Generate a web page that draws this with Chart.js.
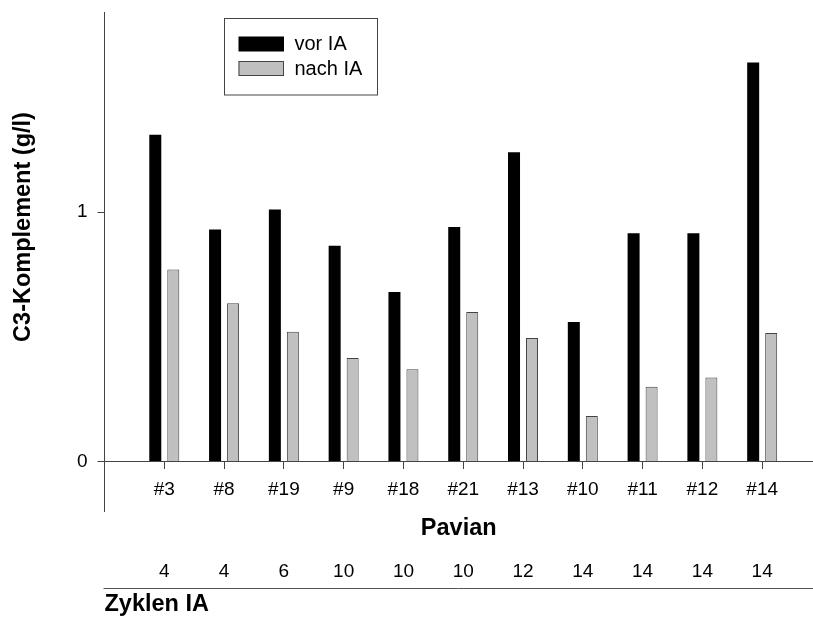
<!DOCTYPE html>
<html lang="de">
<head>
<meta charset="UTF-8">
<title>C3-Komplement vor und nach IA</title>
<script src="https://cdn.jsdelivr.net/npm/chart.js"></script>
<style>
    html, body { margin: 0; padding: 0; background: #fff; overflow: hidden; }
    .chart-box { width: 813px; height: 619px; position: relative; }
</style>
</head>
<body>
<div class="chart-box"><canvas id="c3Chart"></canvas></div>
<script>
    // Pavian-Nummern, C3-Werte (g/l) und Anzahl der IA-Zyklen
    const pavian = ['#3', '#8', '#19', '#9', '#18', '#21', '#13', '#10', '#11', '#12', '#14'];
    const vorIA = [1.31, 0.93, 1.01, 0.865, 0.68, 0.94, 1.24, 0.56, 0.915, 0.915, 1.60];
    const nachIA = [0.77, 0.635, 0.52, 0.415, 0.37, 0.60, 0.495, 0.183, 0.30, 0.337, 0.515];
    const zyklen = [4, 4, 6, 10, 10, 10, 12, 14, 14, 14, 14];
    const yTicks = [0, 1];
    const yTitle = 'C3-Komplement (g/l)';

    const FONT = "'Liberation Sans', Arial, Helvetica, sans-serif";
    const AXIS = '#444';

    const positions = pavian.map((_, i) => i + 1);
    const toPoints = values => values.map((y, i) => ({ x: positions[i], y }));
    const fixTicks = values => scale => { scale.ticks = values.map(value => ({ value })); };

    // rotated y title, legend box and the line above "Zyklen IA"
    const extrasPlugin = {
        id: 'extras',
        afterDraw(chart) {
            const { ctx, chartArea, scales } = chart;

            ctx.save();
            ctx.fillStyle = '#000';
            ctx.font = `bold 23.5px ${FONT}`;
            ctx.textAlign = 'center';
            ctx.textBaseline = 'middle';
            ctx.translate(24, 227);
            ctx.rotate(-Math.PI / 2);
            ctx.fillText(yTitle, 0, 0);
            ctx.restore();

            ctx.save();
            const bx = chartArea.left + 120, by = chartArea.top + 6;
            ctx.strokeStyle = AXIS;
            ctx.lineWidth = 1;
            ctx.strokeRect(bx, by, 153, 76.5);
            ctx.font = `20px ${FONT}`;
            ctx.textAlign = 'left';
            ctx.textBaseline = 'middle';
            chart.data.datasets.forEach((ds, i) => {
                const ry = by + 18 + i * 24.5;
                ctx.fillStyle = ds.backgroundColor;
                ctx.fillRect(bx + 14, ry, 45.5, 15);
                if (ds.borderWidth) {
                    ctx.strokeStyle = ds.borderColor;
                    ctx.strokeRect(bx + 14.5, ry + 0.5, 44.5, 14);
                }
                ctx.fillStyle = '#000';
                ctx.fillText(ds.label, bx + 70, ry + 8);
            });

            const x2 = scales.x2;
            ctx.strokeStyle = '#555';
            ctx.beginPath();
            ctx.moveTo(x2.left - 1, x2.top + 77);
            ctx.lineTo(x2.right, x2.top + 77);
            ctx.stroke();
            ctx.restore();
        }
    };

    new Chart(document.getElementById('c3Chart'), {
        type: 'bar',
        data: {
            datasets: [
                { label: 'vor IA', data: toPoints(vorIA), xAxisID: 'x', backgroundColor: '#000', borderWidth: 0 },
                { label: 'nach IA', data: toPoints(nachIA), xAxisID: 'x', backgroundColor: '#c0c0c0', borderColor: AXIS, borderWidth: 1 }
            ]
        },
        options: {
            responsive: true,
            maintainAspectRatio: false,
            animation: false,
            categoryPercentage: 0.602,
            barPercentage: 0.667,
            layout: { padding: { top: 12.5, left: 0, right: 0, bottom: 0 } },
            plugins: { legend: { display: false }, tooltip: { enabled: false } },
            scales: {
                x: {
                    type: 'linear',
                    axis: 'x',
                    position: { y: 0 },
                    offset: false,
                    min: 0,
                    max: 11.85,
                    afterBuildTicks: fixTicks(positions),
                    afterFit: s => { s.paddingLeft = 0; s.paddingRight = 0; },
                    ticks: {
                        callback: v => pavian[v - 1],
                        color: '#000',
                        font: { family: FONT, size: 19 },
                        padding: 10,
                        maxRotation: 0,
                        autoSkip: false
                    },
                    grid: { offset: false, drawOnChartArea: false, drawTicks: true, tickLength: 7, color: AXIS },
                    border: { display: true, color: AXIS, width: 1 },
                    title: {
                        display: true,
                        text: 'Pavian',
                        color: '#000',
                        font: { family: FONT, size: 23.5, weight: 'bold' },
                        padding: { top: 3, bottom: 0 }
                    }
                },
                x2: {
                    type: 'linear',
                    axis: 'x',
                    position: 'bottom',
                    offset: false,
                    min: 0,
                    max: 11.85,
                    afterBuildTicks: fixTicks(positions),
                    afterFit: s => { s.height = 107.5; s.paddingLeft = 0; s.paddingRight = 0; },
                    ticks: {
                        callback: v => String(zyklen[v - 1]),
                        color: '#000',
                        font: { family: FONT, size: 19 },
                        padding: 48.8,
                        maxRotation: 0,
                        autoSkip: false
                    },
                    grid: { offset: false, display: false, drawTicks: false },
                    border: { display: false },
                    title: {
                        display: true,
                        text: 'Zyklen IA',
                        align: 'start',
                        color: '#000',
                        font: { family: FONT, size: 23.5, weight: 'bold' },
                        padding: 0
                    }
                },
                y: {
                    min: -0.2,
                    max: 1.8,
                    afterBuildTicks: fixTicks(yTicks),
                    afterFit: s => { s.width = 104.5; s.paddingTop = 0; s.paddingBottom = 0; },
                    ticks: {
                        callback: v => String(v),
                        color: '#000',
                        font: { family: FONT, size: 19 },
                        padding: 10
                    },
                    grid: { drawOnChartArea: false, tickLength: 7, color: AXIS },
                    border: { color: AXIS, width: 1 }
                }
            }
        },
        plugins: [extrasPlugin]
    });
</script>
</body>
</html>
